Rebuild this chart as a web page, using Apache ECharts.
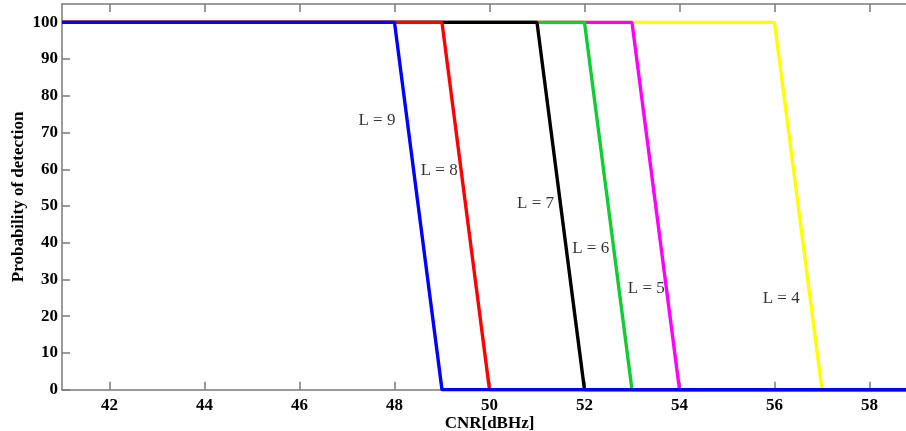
<!DOCTYPE html>
<html>
<head>
<meta charset="utf-8">
<script src="https://cdn.jsdelivr.net/npm/echarts@6/dist/echarts.min.js"></script>
<style>html,body{margin:0;padding:0;background:#fff}#c{width:906px;height:431px}</style>
</head>
<body>
<div id="c"></div>
<script>
// Series data: [CNR, probability]
const seriesNames = ['L = 4', 'L = 5', 'L = 6', 'L = 7', 'L = 8', 'L = 9'];
const seriesColors = ['#ffff00', '#ff00ff', '#11cc33', '#000000', '#ff0000', '#0000ff'];
const cnrL4 = [41, 56, 57, 59];
const pdL4  = [100, 100, 0, 0];
const cnrL5 = [41, 53, 54, 59];
const pdL5  = [100, 100, 0, 0];
const cnrL6 = [41, 52, 53, 59];
const pdL6  = [100, 100, 0, 0];
const cnrL7 = [41, 51, 52, 59];
const pdL7  = [100, 100, 0, 0];
const cnrL8 = [41, 49, 50, 59];
const pdL8  = [100, 100, 0, 0];
const cnrL9 = [41, 48, 49, 59];
const pdL9  = [100, 100, 0, 0];

// Annotation labels
const labelText = ['L = 9', 'L = 8', 'L = 7', 'L = 6', 'L = 5', 'L = 4'];
const labelX = [47.63, 48.94, 50.97, 52.13, 53.30, 56.14];
const labelY = [73.4, 59.7, 50.7, 38.4, 27.5, 24.8];

const xTicks = [42, 44, 46, 48, 50, 52, 54, 56, 58];
const yTicks = [0, 10, 20, 30, 40, 50, 60, 70, 80, 90, 100];

const xs = [cnrL4, cnrL5, cnrL6, cnrL7, cnrL8, cnrL9];
const ys = [pdL4, pdL5, pdL6, pdL7, pdL8, pdL9];

const font = 'Liberation Serif, Times New Roman, serif';
const axisLineStyle = { color: '#7a7a7a', width: 1.5 };

const series = seriesNames.map((n, i) => ({
  name: n,
  type: 'line',
  data: xs[i].map((x, j) => [x, ys[i][j]]),
  symbol: 'none',
  lineStyle: { color: seriesColors[i], width: 3.4 },
  itemStyle: { color: seriesColors[i] },
  animation: false
}));
series.push({
  type: 'scatter',
  symbolSize: 0,
  data: labelX.map((x, i) => ({ value: [x, labelY[i]], label: { formatter: labelText[i] } })),
  label: { show: true, position: 'inside', fontFamily: font, fontSize: 17, color: '#000' },
  silent: true,
  animation: false,
  z: 5
});

const chart = echarts.init(document.getElementById('c'));
chart.setOption({
  backgroundColor: '#fff',
  animation: false,
  grid: { left: 62, top: 4, width: 855, height: 385.7, containLabel: false, outerBoundsMode: 'none' },
  xAxis: [{
    type: 'value', min: 41, max: 59, position: 'bottom',
    axisLine: { show: true, onZero: false, lineStyle: axisLineStyle },
    axisTick: { show: true, inside: true, length: 8, customValues: xTicks, lineStyle: axisLineStyle },
    axisLabel: { customValues: xTicks, margin: 7, fontFamily: font, fontWeight: 'bold', fontSize: 17, color: '#000' },
    splitLine: { show: false },
    name: 'CNR[dBHz]', nameLocation: 'middle', nameGap: 25, nameMoveOverlap: false,
    nameTextStyle: { fontFamily: font, fontWeight: 'bold', fontSize: 17, color: '#000' }
  }, {
    type: 'value', min: 41, max: 59, position: 'top',
    axisLine: { show: true, onZero: false, lineStyle: axisLineStyle },
    axisTick: { show: true, inside: true, length: 8, customValues: xTicks, lineStyle: axisLineStyle },
    axisLabel: { show: false },
    splitLine: { show: false }
  }],
  yAxis: [{
    type: 'value', min: 0, max: 105,
    axisLine: { show: true, onZero: false, lineStyle: axisLineStyle },
    axisTick: { show: true, inside: true, length: 8, customValues: yTicks, lineStyle: axisLineStyle },
    axisLabel: { customValues: yTicks, margin: 4, fontFamily: font, fontWeight: 'bold', fontSize: 17, color: '#000' },
    splitLine: { show: false },
    name: 'Probability of detection', nameLocation: 'middle', nameGap: 35, nameMoveOverlap: false,
    nameTextStyle: { fontFamily: font, fontWeight: 'bold', fontSize: 17, color: '#000' }
  }],
  series: series
});
</script>
</body>
</html>
